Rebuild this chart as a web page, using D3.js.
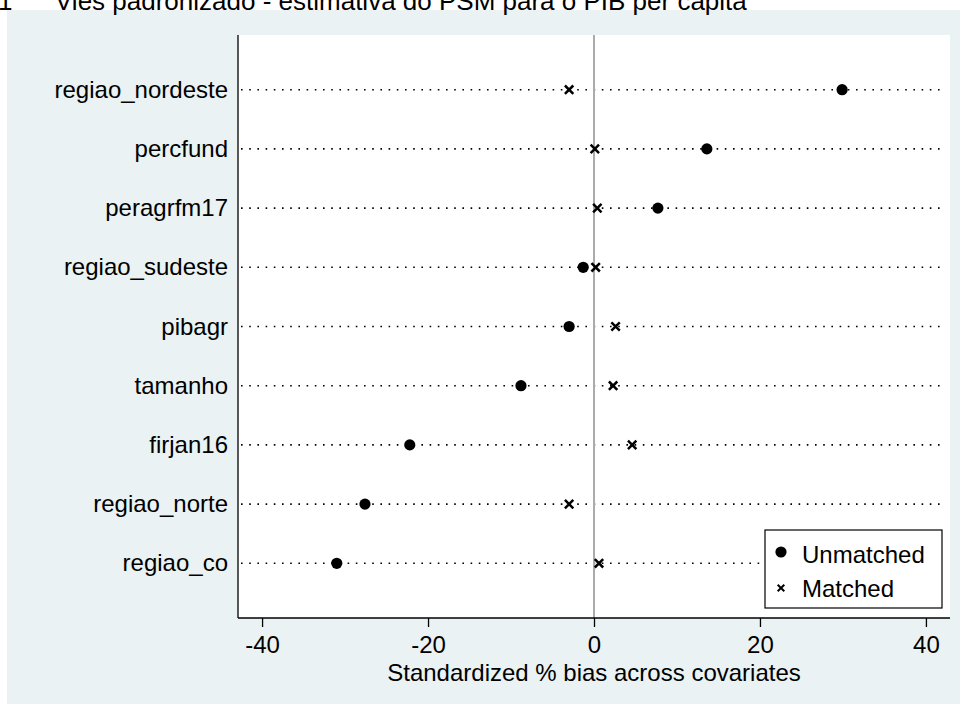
<!DOCTYPE html>
<html>
<head>
<meta charset="utf-8">
<script src="https://cdn.jsdelivr.net/npm/d3@7"></script>
<style>
  html, body { margin: 0; padding: 0; background: #ffffff; }
  svg { display: block; font-family: Arial, "Liberation Sans", sans-serif; }
</style>
</head>
<body>
<svg id="chart" width="960" height="704"></svg>
<script>
// Covariates, top to bottom
const covariates = ["regiao_nordeste", "percfund", "peragrfm17", "regiao_sudeste",
                    "pibagr", "tamanho", "firjan16", "regiao_norte", "regiao_co"];
// Standardized % bias before matching
const unmatched = [29.9, 13.6, 7.7, -1.3, -3.0, -8.8, -22.2, -27.6, -31.0];
// Standardized % bias after matching
const matched = [-3.0, 0.1, 0.4, 0.2, 2.6, 2.3, 4.6, -3.0, 0.6];
// Axis ticks
const xTicks = [-40, -20, 0, 20, 40];
const legendLabels = ["Unmatched", "Matched"];
const titleText = "Viés padronizado - estimativa do PSM para o PIB per capita";

const svg = d3.select("#chart");
const W = 960, H = 704;
const plot = { left: 238, right: 950, top: 35, bottom: 618 };

// Outer graph region
svg.append("rect").attr("x", 7).attr("y", 10).attr("width", W - 7).attr("height", H - 10)
  .attr("fill", "#eaf2f3");

// Title (partly outside the top edge)
svg.append("text").attr("x", -2).attr("y", 10).attr("font-size", 26).attr("fill", "#000").text("1");
svg.append("text").attr("x", 55).attr("y", 10).attr("font-size", 26).attr("fill", "#000").text(titleText);

// Plot region
svg.append("rect").attr("x", plot.left).attr("y", plot.top)
  .attr("width", plot.right - plot.left).attr("height", plot.bottom - plot.top)
  .attr("fill", "#ffffff");

const x = d3.scaleLinear().domain([-42.9, 42.9]).range([plot.left, plot.right]);
const y = d3.scalePoint().domain(covariates).range([plot.top, plot.bottom]).padding(0.924);

const rows = covariates.map((c, i) => ({ name: c, u: unmatched[i], m: matched[i] }));

// Dotted guide lines per covariate
svg.append("g").selectAll("line").data(rows).join("line")
  .attr("x1", plot.left + 3).attr("x2", plot.right - 4)
  .attr("y1", d => y(d.name)).attr("y2", d => y(d.name))
  .attr("stroke", "#000").attr("stroke-width", 1.6)
  .attr("stroke-dasharray", "1.6 6.6");

// Reference line at zero
svg.append("line").attr("x1", x(0)).attr("x2", x(0))
  .attr("y1", plot.top).attr("y2", plot.bottom)
  .attr("stroke", "#ababab").attr("stroke-width", 2);

// Y axis (category labels)
const yAxis = svg.append("g").attr("transform", `translate(${plot.left},0)`)
  .call(d3.axisLeft(y).tickSize(0).tickPadding(10));
yAxis.select(".domain").attr("stroke", "#000").attr("stroke-width", 1.3)
  .attr("d", `M0,${plot.top}V${plot.bottom}`);
yAxis.selectAll("text").attr("font-size", 24).attr("fill", "#000")
  .attr("font-family", "Arial, 'Liberation Sans', sans-serif");

// X axis
const xAxis = svg.append("g").attr("transform", `translate(0,${plot.bottom})`)
  .call(d3.axisBottom(x).tickValues(xTicks).tickSize(9).tickPadding(9).tickFormat(d3.format("d")));
xAxis.select(".domain").attr("stroke", "#000").attr("stroke-width", 1.3)
  .attr("d", `M${plot.left},0H${plot.right}`);
xAxis.selectAll(".tick line").attr("stroke", "#000").attr("stroke-width", 1.3);
xAxis.selectAll("text").attr("font-size", 24).attr("fill", "#000")
  .attr("font-family", "Arial, 'Liberation Sans', sans-serif")
  .text(d => d < 0 ? "-" + Math.abs(d) : d);

svg.append("text").attr("x", x(0)).attr("y", 681).attr("text-anchor", "middle")
  .attr("font-size", 24).attr("fill", "#000").text("Standardized % bias across covariates");

// Markers
const crossPath = s => `M${-s},${-s}L${s},${s}M${-s},${s}L${s},${-s}`;

svg.append("g").selectAll("circle").data(rows).join("circle")
  .attr("cx", d => x(d.u)).attr("cy", d => y(d.name)).attr("r", 5.6).attr("fill", "#000");

svg.append("g").selectAll("path").data(rows).join("path")
  .attr("transform", d => `translate(${x(d.m)},${y(d.name)})`)
  .attr("d", crossPath(4.2)).attr("stroke", "#000").attr("stroke-width", 2.5).attr("fill", "none");

// Legend
const lg = svg.append("g");
lg.append("rect").attr("x", 765).attr("y", 530).attr("width", 177).attr("height", 78)
  .attr("fill", "#fff").attr("stroke", "#000").attr("stroke-width", 1.2);
lg.append("circle").attr("cx", 781).attr("cy", 552).attr("r", 5.6).attr("fill", "#000");
lg.append("path").attr("transform", "translate(781,588)").attr("d", crossPath(3.3))
  .attr("stroke", "#000").attr("stroke-width", 2).attr("fill", "none");
lg.selectAll("text.lab").data(legendLabels).join("text").attr("class", "lab")
  .attr("x", 802).attr("y", (d, i) => 563 + i * 34).attr("font-size", 24).attr("fill", "#000")
  .text(d => d);
</script>
</body>
</html>
